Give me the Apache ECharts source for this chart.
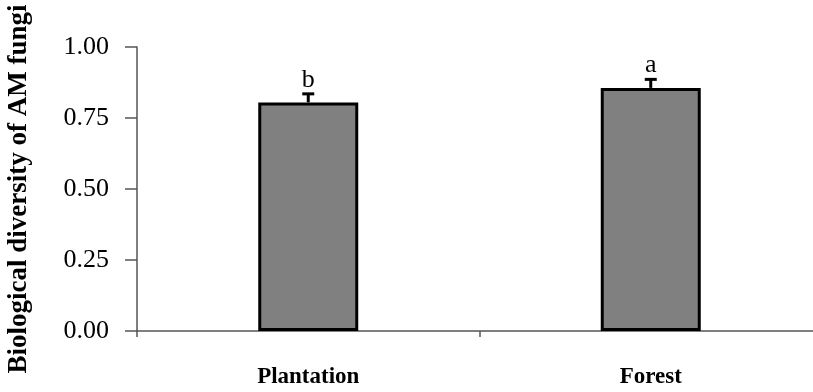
<!DOCTYPE html>
<html>
<head>
<meta charset="utf-8">
<script src="https://cdn.jsdelivr.net/npm/echarts@6/dist/echarts.min.js"></script>
<style>html,body{margin:0;padding:0;background:#fff;}#c{width:813px;height:392px;}</style>
</head>
<body>
<div id="c"></div>
<script>
const categories = ['Plantation', 'Forest'];
const values = [0.805, 0.856];
const errors = [0.03, 0.03];
const letters = ['b', 'a'];
const yTickLabels = ['0.00', '0.25', '0.50', '0.75', '1.00'];

const chart = echarts.init(document.getElementById('c'));
const serif = '"Liberation Serif", "Times New Roman", serif';

chart.setOption({
  animation: false,
  backgroundColor: '#ffffff',
  grid: { left: 137, right: -9, top: 47, bottom: 61, containLabel: false, outerBoundsMode: 'none' },
  xAxis: {
    type: 'category',
    data: categories,
    axisLine: { lineStyle: { color: '#555', width: 1.5 } },
    axisTick: { show: true, length: 6, lineStyle: { color: '#555', width: 1.5 } },
    axisLabel: { margin: 35, color: '#000', fontFamily: serif, fontWeight: 'bold', fontSize: 23 }
  },
  yAxis: {
    type: 'value',
    min: 0, max: 1, interval: 0.25,
    name: 'Biological diversity of AM fungi',
    nameLocation: 'middle',
    nameGap: 104,
    nameTextStyle: { color: '#000', fontFamily: serif, fontWeight: 'bold', fontSize: 27 },
    axisLine: { show: true, lineStyle: { color: '#555', width: 1.5 } },
    axisTick: { show: true, length: 12, lineStyle: { color: '#555', width: 1.5 } },
    splitLine: { show: false },
    axisLabel: {
      margin: 28, color: '#000', fontFamily: serif, fontSize: 26,
      formatter: (v) => yTickLabels[Math.round(v / 0.25)]
    }
  },
  series: [
    {
      type: 'bar',
      data: values,
      barWidth: 100,
      itemStyle: { color: '#808080', borderColor: '#000', borderWidth: 3 }
    },
    {
      type: 'custom',
      data: values.map((v, i) => [i, v, errors[i], letters[i]]),
      renderItem: function (params, api) {
        const x = api.coord([api.value(0), api.value(1)]);
        const top = api.coord([api.value(0), api.value(1) + api.value(2)]);
        const half = 6;
        return {
          type: 'group',
          children: [
            { type: 'line', shape: { x1: x[0], y1: x[1], x2: top[0], y2: top[1] }, style: { stroke: '#000', lineWidth: 3 } },
            { type: 'line', shape: { x1: top[0] - half, y1: top[1], x2: top[0] + half, y2: top[1] }, style: { stroke: '#000', lineWidth: 3 } },
            { type: 'text', x: top[0], y: top[1] - 1, style: { text: letters[params.dataIndex], fill: '#000', font: '26px ' + serif, align: 'center', verticalAlign: 'bottom' } }
          ]
        };
      },
      z: 5
    }
  ]
});
</script>
</body>
</html>
